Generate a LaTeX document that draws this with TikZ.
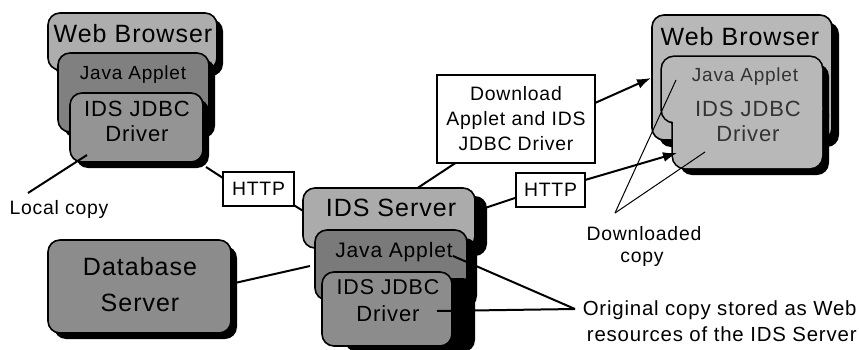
\documentclass[tikz,border=0pt]{standalone}
\usepackage{fontspec}
\setmainfont{Liberation Sans}[LetterSpace=4]
\usetikzlibrary{arrows.meta,shadows,fit}
\pgfdeclarelayer{bg}
\pgfsetlayers{bg,main}
\begin{document}
\begin{tikzpicture}[x=0.5pt,y=-0.5pt,
  pbox/.style={draw=black, line width=0.8pt, rounded corners=6pt, inner sep=0pt, outer sep=0pt},
  shd/.style 2 args={drop shadow={shadow xshift=#1, shadow yshift=-#2, opacity=1, fill=black}},
  ibox/.style={draw=black, line width=1.6pt, rounded corners=6pt, inner sep=0pt, outer sep=0pt,
     fill=innergray},
  ttl/.style={font=\fontsize{12.5}{15}\selectfont, anchor=base, inner sep=0pt},
  mid/.style={font=\fontsize{9.5}{11}\selectfont, anchor=base, inner sep=0pt},
  drv/.style={font=\fontsize{11}{13}\selectfont, anchor=base, inner sep=0pt},
  lab/.style={font=\fontsize{9.7}{12.5}\selectfont, anchor=base, inner sep=0pt},
  tag/.style={draw=black, line width=0.75pt, fill=white, inner sep=0pt,
     font=\fontsize{9.7}{12.5}\selectfont, align=center},
  conn/.style={line width=1pt, black},
  thinconn/.style={line width=0.5pt, black},
  arr/.style={line width=1pt, -{Latex[length=7pt,width=5pt]}}
]
\definecolor{innergray}{gray}{0.72}
\useasboundingbox (0,0) rectangle (859,349);

% ---------- left stack ----------
\node[pbox, shd={3pt}{3pt}, fill=black!32, fit={(48,13)(217,70)}] (wb1) {};
\node[pbox, shd={3pt}{3pt}, fill=black!50, fit={(58,53)(209,132)}] (ja1) {};
\node[pbox, shd={3pt}{3pt}, fill=black!42, fit={(70,93)(203,162)}] (dr1) {};
\node[ttl] (wb1t) at (133,42) {Web Browser};
\node[mid] (ja1t) at (133,79) {Java Applet};
\node[drv] (dr1ta) at (137,116) {IDS JDBC};
\node[drv] (dr1tb) at (137,141) {Driver};

% ---------- database ----------
\node[pbox, shd={3pt}{3pt}, fill=black!45, fit={(48,240)(231,333)}] (db) {};
\node[ttl] (dbta) at (140,275) {Database};
\node[ttl] (dbtb) at (140,311) {Server};

% ---------- IDS server stack ----------
\node[pbox, shd={6pt}{4pt}, fill=black!33, fit={(303,188)(475,248)}] (sv) {};
\node[pbox, shd={5pt}{4pt}, fill=black!52, fit={(315,230)(467,300)}] (ja2) {};
\node[pbox, shd={11.5pt}{3pt}, fill=black!45, fit={(322,272)(452,346)}] (dr2) {};
\node[ttl] (svt) at (391,216) {IDS Server};
\node[mid, font=\fontsize{10.5}{12}\selectfont] (ja2t) at (394,257) {Java Applet};
\node[drv, font=\fontsize{10.7}{13}\selectfont] (dr2ta) at (388,294) {IDS JDBC};
\node[drv] (dr2tb) at (388,321) {Driver};

% ---------- right browser ----------
\node[pbox, shd={3.5pt}{3.5pt}, fill=black!28, fit={(652,15)(832,140)}] (wb3) {};
\node[ibox, shd={3.5pt}{3.5pt}, fit={(662,57)(822,122)}] (ja3) {};
\node[ibox, shd={3.5pt}{3.5pt}, fit={(673,95)(822,168)}] (dr3) {};
\fill[innergray, rounded corners=6pt] (ja3.south west) rectangle (ja3.north east);
\fill[innergray, rounded corners=6pt] (dr3.south west) rectangle (dr3.north east);
\node[ttl] (wb3t) at (740,45) {Web Browser};
\node[mid, text=black!80] (ja3t) at (745,81) {Java Applet};
\node[drv, text=black!80] (dr3ta) at (748,116) {IDS JDBC};
\node[drv, text=black!80] (dr3tb) at (748,141) {Driver};

% ---------- tags ----------
\node[tag, minimum width=35.5pt, minimum height=17pt] (http1) at (258.5,189) {HTTP};
\node[tag, minimum width=34.5pt, minimum height=17pt] (http2) at (550.5,190) {HTTP};
\node[tag, minimum width=79pt, minimum height=44pt] (dl) at (516,119)
  {Download\\Applet and IDS\\JDBC Driver};

% ---------- labels ----------
\node[lab] (lc) at (59,214) {Local copy};
\node[lab] (dca) at (644,240) {Downloaded};
\node[lab] (dcb) at (642,262) {copy};
\node[lab, anchor=base east, font=\fontsize{10.2}{12.5}\selectfont] (oca) at (857,315) {Original copy stored as Web};
\node[lab, anchor=base east, font=\fontsize{10.2}{12.5}\selectfont] (ocb) at (857,341) {resources of the IDS Server};

% ---------- connector points ----------
\coordinate (lcA) at (87,155);
\coordinate (lcB) at (28,193);
\coordinate (h1a) at (206,167);
\coordinate (h1b) at (223,178);
\coordinate (h1c) at (292,204);
\coordinate (sva) at (308,214);
\coordinate (dba) at (226,285);
\coordinate (svb) at (310,266);
\coordinate (dla) at (460,160);
\coordinate (svc) at (410,193);
\coordinate (svd) at (482,209);
\coordinate (h2a) at (518,197);
\coordinate (dlb) at (595,103);
\coordinate (wb3a) at (651,78);
\coordinate (h2b) at (585,180);
\coordinate (dr3a) at (677,153);
\coordinate (dcp) at (615,213);
\coordinate (ja3a) at (676,80);
\coordinate (dr3b) at (705,152);
\coordinate (ocp) at (575,309);
\coordinate (ja2a) at (453,256);
\coordinate (dr2a) at (437,311);

\begin{pgfonlayer}{bg}
\draw[conn] (h1a) -- (h1b);
\draw[conn] (h1c) -- (sva);
\draw[conn] (dba) -- (svb);
\draw[conn] (dla) -- (svc);
\draw[conn] (svd) -- (h2a);
\end{pgfonlayer}

\draw[conn] (lcA) -- (lcB);
\draw[arr] (dlb) -- (wb3a);
\draw[arr] (h2b) -- (dr3a);
\draw[thinconn] (dcp) -- (ja3a);
\draw[thinconn] (dcp) -- (dr3b);
\draw[conn] (ocp) -- (ja2a);
\draw[conn] (ocp) -- (dr2a);
\end{tikzpicture}
\end{document}
